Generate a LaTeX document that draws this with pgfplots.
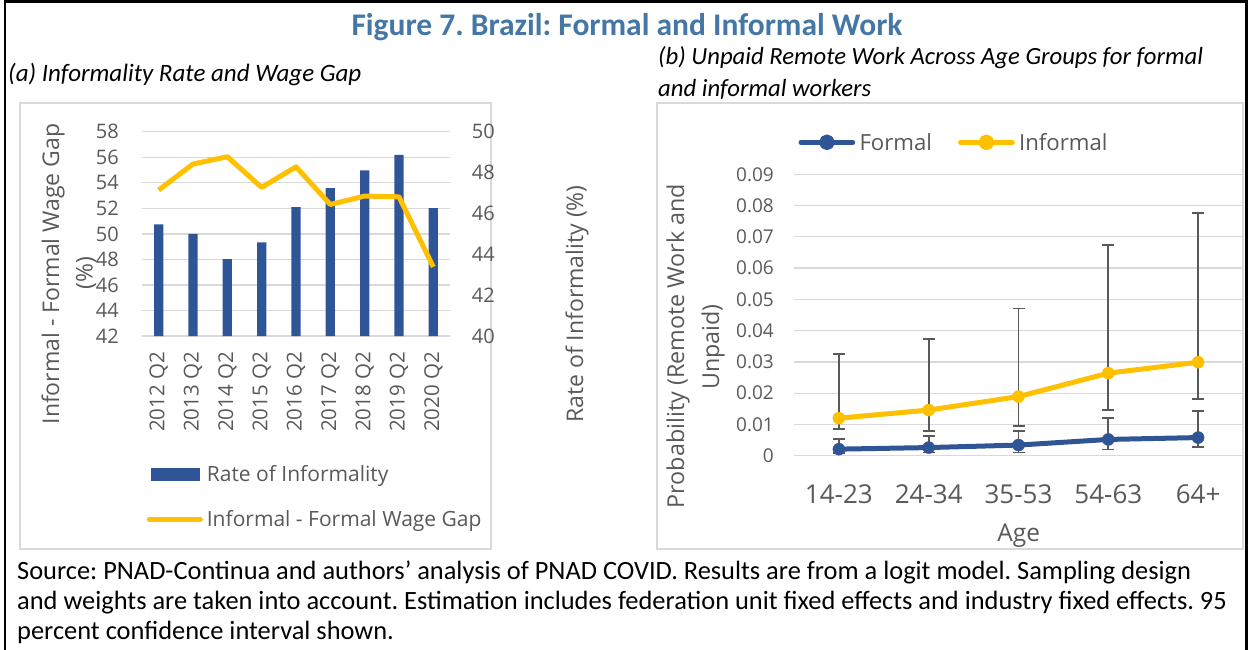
\documentclass[border=0pt]{standalone}
\usepackage{fontspec}
\usepackage{pgfplots}
\pgfplotsset{compat=1.18}
\setmainfont{Carlito}
\newfontfamily\osans{Open Sans}
\newcommand{\fs}[1]{\fontsize{#1}{#1}\selectfont}
\frenchspacing

\definecolor{barblue}{RGB}{47,85,151}
\definecolor{gold}{RGB}{255,192,0}
\definecolor{txtgray}{RGB}{89,89,89}
\definecolor{gridgray}{RGB}{217,217,217}
\definecolor{errgray}{RGB}{89,89,89}
\definecolor{titleblue}{RGB}{68,118,166}

% shared look of the Excel-style axes
\pgfplotsset{
  xlstyle/.style={
    scale only axis, anchor=south west,
    axis line style={draw=none}, tick style={draw=none},
    tick label style={font=\osans\fs{20}, text=txtgray, inner sep=0pt},
    /pgf/number format/assume math mode=true,
    scaled y ticks=false,
    legend style={draw=none, fill=none, inner sep=0pt, nodes={inner sep=0pt},
      font=\osans\fs{21}, text=txtgray},
  },
}

\begin{document}
\begin{tikzpicture}[x=1pt,y=1pt]
\useasboundingbox (0,0) rectangle (1248,649);

% frames
\draw[line width=2.5pt] (5,-5) -- (5,647.6) -- (1246.6,647.6) -- (1246.6,-5);
\draw[gridgray, line width=1.2pt] (20,546) rectangle (491,100);
\draw[gridgray, line width=1.2pt] (657,546) rectangle (1243,100);

% titles
\node[anchor=base, font=\bfseries\fs{31.5}, text=titleblue, inner sep=0pt] at (627,613) {Figure 7. Brazil: Formal and Informal Work};
\node[anchor=base west, font=\itshape\fs{25}, inner sep=0pt] at (8,567) {(a) Informality Rate and Wage Gap};
\node[anchor=base west, font=\itshape\fs{24.7}, inner sep=0pt] at (658,584) {(b) Unpaid Remote Work Across Age Groups for formal};
\node[anchor=base west, font=\itshape\fs{24.7}, inner sep=0pt] at (658,552) {and informal workers};

% source note
\begin{scope}[every node/.style={anchor=base west, font=\fs{26.4}, inner sep=0pt}]
\node at (17,70) {Source: PNAD-Continua and authors’ analysis of PNAD COVID. Results are from a logit model. Sampling design};
\node at (17,40) {and weights are taken into account. Estimation includes federation unit fixed effects and industry fixed effects. 95};
\node at (17,10) {percent confidence interval shown.};
\end{scope}

% ---------- panel (a): bars on the right scale ----------
\begin{axis}[xlstyle,
  at={(141.5pt,313pt)}, width=309pt, height=204.3pt,
  xmin=-0.5, xmax=8.5, ymin=40, ymax=50,
  ytick={40,42,...,50}, yticklabel pos=right,
  yticklabel style={anchor=west}, yticklabel shift=21.3pt,
  extra y ticks={40,41.25,42.5,43.75,45,46.25,47.5,48.75,50},
  extra y tick labels={},
  extra y tick style={grid=major, major grid style={gridgray, line width=1.3pt}},
  xtick={0,...,8},
  xticklabels={2012 Q2,2013 Q2,2014 Q2,2015 Q2,2016 Q2,2017 Q2,2018 Q2,2019 Q2,2020 Q2},
  xticklabel style={rotate=90, anchor=east, font=\osans\fs{20.5}},
  xticklabel shift=15.7pt,
  legend style={at={(0.0298,-0.678)}, anchor=west, column sep=7.4pt},
]
\addplot[ybar, bar width=9.3pt, fill=barblue, draw=none,
  legend image code/.code={\fill[barblue] (0pt,-6.2pt) rectangle (48.6pt,6.2pt);}]
  coordinates {(0,45.46) (1,45.00) (2,43.76) (3,44.58) (4,46.31)
               (5,47.24) (6,48.11) (7,48.86) (8,46.26)};
\addlegendentry{Rate of Informality}
\end{axis}

% ---------- panel (a): wage gap on the left scale ----------
\begin{axis}[xlstyle,
  at={(141.5pt,313pt)}, width=309pt, height=204.3pt,
  xmin=-0.5, xmax=8.5, ymin=42, ymax=58,
  ytick={42,44,...,58}, yticklabel pos=left,
  yticklabel style={anchor=east}, yticklabel shift=22.5pt,
  xtick=\empty,
  legend style={at={(0.0168,-0.896)}, anchor=west, column sep=4pt},
]
\addplot[gold, line width=5pt, line join=round,
  legend image code/.code={\draw[gold, line width=5pt, line cap=round] (2.5pt,0pt) -- (53.5pt,0pt);}]
  coordinates {(0,53.43) (1,55.47) (2,56.04) (3,53.64) (4,55.25)
               (5,52.30) (6,52.96) (7,52.90) (8,47.41)};
\addlegendentry{Informal - Formal Wage Gap}
\end{axis}

\node[rotate=90, font=\osans\fs{23}, text=txtgray] at (53,375) {Informal - Formal Wage Gap};
\node[rotate=90, font=\osans\fs{23}, text=txtgray] at (86,376) {(\%)};
\node[rotate=90, font=\osans\fs{23}, text=txtgray] at (577,345) {Rate of Informality (\%)};

% ---------- panel (b) ----------
\begin{axis}[xlstyle,
  at={(794pt,193.3pt)}, width=449pt, height=281.4pt,
  xmin=-0.5, xmax=4.5, ymin=0, ymax=0.09,
  ymajorgrids, grid style={gridgray, line width=1.3pt},
  ytick={0,0.01,0.02,0.03,0.04,0.05,0.06,0.07,0.08,0.09},
  yticklabels={0,0.01,0.02,0.03,0.04,0.05,0.06,0.07,0.08,0.09},
  yticklabel style={anchor=east, font=\osans\fs{19}}, yticklabel shift=20pt,
  xtick={0,...,4}, xticklabels={14-23,24-34,35-53,54-63,64+},
  xticklabel style={anchor=base, font=\osans\fs{26}}, xticklabel shift=47.3pt,
  legend columns=2,
  legend style={at={(0.0096,1.1137)}, anchor=west, font=\osans\fs{22.2},
    /tikz/every odd column/.append style={column sep=4.3pt},
    /tikz/every even column/.append style={column sep=26pt}},
]
\addplot[barblue, line width=5pt, line join=round,
  mark=*, mark size=6pt, mark options={line width=0.5pt},
  legend image code/.code={\draw[barblue, line width=5pt, line cap=round] (2.5pt,0pt) -- (54.2pt,0pt);
    \fill[barblue] (28.4pt,0pt) circle[radius=5.3pt];},
  error bars/.cd, y dir=both, y explicit,
  error bar style={errgray, line width=1.8pt},
  error mark options={errgray, rotate=90, mark size=6pt, line width=1.8pt}]
  coordinates {
    (0,0.0021) += (0,0.0033) -= (0,0.0013)
    (1,0.0026) += (0,0.0036) -= (0,0.0016)
    (2,0.0034) += (0,0.0045) -= (0,0.0024)
    (3,0.0052) += (0,0.0068) -= (0,0.0032)
    (4,0.0058) += (0,0.0085) -= (0,0.0029)
  };
\addlegendentry{Formal}
\addplot[gold, line width=5pt, line join=round,
  mark=*, mark size=6pt, mark options={line width=0.5pt},
  legend image code/.code={\draw[gold, line width=5pt, line cap=round] (2.5pt,0pt) -- (54.2pt,0pt);
    \fill[gold] (28.4pt,0pt) circle[radius=5.3pt];},
  error bars/.cd, y dir=both, y explicit,
  error bar style={errgray, line width=1.8pt},
  error mark options={errgray, rotate=90, mark size=6pt, line width=1.8pt}]
  coordinates {
    (0,0.0120) += (0,0.0205) -= (0,0.0034)
    (1,0.0146) += (0,0.0226) -= (0,0.0066)
    (2,0.0189) += (0,0.0282) -= (0,0.0093)
    (3,0.0264) += (0,0.0410) -= (0,0.0118)
    (4,0.0299) += (0,0.0477) -= (0,0.0118)
  };
\addlegendentry{Informal}
\end{axis}

\node[rotate=90, font=\osans\fs{23.3}, text=txtgray] at (678,303) {Probability (Remote Work and};
\node[rotate=90, font=\osans\fs{23.3}, text=txtgray] at (713,302) {Unpaid)};
\node[anchor=base, font=\osans\fs{24.5}, text=txtgray, inner sep=0pt] at (1018.7,108) {Age};
\end{tikzpicture}
\end{document}
